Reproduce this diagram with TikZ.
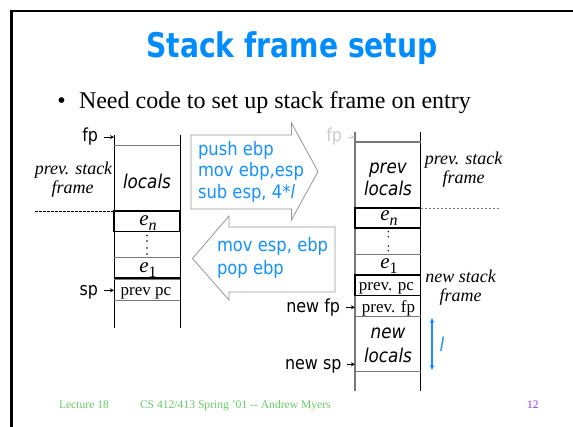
\documentclass[tikz,border=0pt]{standalone}
\usepackage{fontspec}
\setmainfont{Liberation Serif}
\newfontfamily\tah{DejaVu Sans}[FakeStretch=0.885]
\newfontfamily\titlefont{DejaVu Sans}[FakeStretch=0.83]
\usetikzlibrary{arrows.meta}
\definecolor{ttlblue}{RGB}{0,140,255}
\definecolor{codeblue}{RGB}{20,145,255}
\definecolor{footgreen}{RGB}{102,204,102}
\definecolor{footpurple}{RGB}{153,51,255}
\definecolor{boxgray}{RGB}{150,150,150}
\definecolor{linegray}{RGB}{120,120,120}
\definecolor{palegray}{RGB}{205,205,205}
\newcommand{\esub}[1]{\raisebox{-5pt}{\fontsize{16}{16}\selectfont #1}}
\begin{document}
\begin{tikzpicture}[x=1pt,y=-1pt,
  every node/.style={inner sep=0pt,outer sep=0pt},
  sanslbl/.style={font=\tah\fontsize{18}{20}\selectfont,text height=13pt,text depth=3.7pt},
  sansit/.style={font=\tah\itshape\fontsize{19}{21}\selectfont},
  codetxt/.style={font=\tah\fontsize{18.5}{21}\selectfont,text=codeblue},
  serit/.style={font=\itshape\fontsize{18}{20}\selectfont},
  srf/.style={font=\fontsize{17}{19}\selectfont},
  eitem/.style={font=\itshape\fontsize{21}{23}\selectfont},
  foot/.style={font=\fontsize{11.6}{13}\selectfont,text=footgreen},
  ptr/.style={-{Stealth[length=4pt,width=4pt]},line width=0.8pt,shorten <=5.5pt},
  glin/.style={draw=linegray,line width=1pt},
  blin/.style={draw=black,line width=1.5pt},
  arrowbox/.style={draw=boxgray,line width=0.8pt,fill=white,line join=miter}]
\useasboundingbox (0,0) rectangle (573,426);

% slide frame
\draw[line width=2.6pt] (11.3,440) -- (11.3,11) -- (590,11);

% title and bullet
\node[anchor=base,text=ttlblue,font=\titlefont\bfseries\fontsize{34}{40}\selectfont] (title) at (292,57) {Stack frame setup};
\node[anchor=base,font=\fontsize{24}{28}\selectfont] (bul) at (61.5,108) {\textbullet};
\node[anchor=base west,font=\fontsize{24}{28}\selectfont] (point) at (79,108) {Need code to set up stack frame on entry};

% ---------- stack before entry ----------
\coordinate (LS) at (114,0);
\draw[line width=1pt] (114,135) -- (114,328) (180,135) -- (180,328);
\draw[glin] (114,145) -- (180,145) (114,257.3) -- (180,257.3)
            (114,279.5) -- (180,279.5) (114,300) -- (180,300);
\draw[blin] (114,211) rectangle (180,231.5);
\draw[blin] (114,278) -- (180,278);
\draw[line width=0.9pt,dash pattern=on 2.5pt off 1.5pt] (35,211) -- (114,211);
\foreach \yy in {235.5,241,248,254} \fill (147,\yy) circle[radius=0.8pt];

\node[sansit,anchor=base] (locL) at (147,188.3) {locals};
\node[eitem,anchor=base] (enL) at (148,225) {e\esub{n}};
\node[eitem,anchor=base] (e1L) at (148,272.7) {e\esub{\upshape 1}};
\node[srf,anchor=base] (pcL) at (146,295) {prev pc};

\node[serit,anchor=base] (psL1) at (73.5,174.3) {prev. stack};
\node[serit,anchor=base] (psL2) at (72.5,193.3) {frame};

\node[sanslbl,anchor=base east] (fpL) at (98,141.7) {fp};
\node[sanslbl,anchor=base east] (spL) at (98,295) {sp};
\draw[ptr] (fpL.east) -- (fpL.east -| LS);
\draw[ptr] (spL.east) -- (spL.east -| LS);

% ---------- prologue / epilogue arrows ----------
\draw[arrowbox] (191,135) -- (291.5,135) -- (291.5,123) -- (318,171.5)
   -- (291.5,220) -- (291.5,209) -- (191,209) -- cycle;
\draw[arrowbox] (335,227) -- (229,227) -- (229,216) -- (192.5,258.5)
   -- (229,300) -- (229,292) -- (335,292) -- cycle;

\node[codetxt,anchor=base west] (c1) at (198,155) {push ebp};
\node[codetxt,anchor=base west] (c2) at (198,176.7) {mov ebp,esp};
\node[codetxt,anchor=base west] (c3) at (198,198.3) {sub esp, 4*{\itshape l}};
\node[codetxt,anchor=base west] (c4) at (217,251.7) {mov esp, ebp};
\node[codetxt,anchor=base west] (c5) at (217,274) {pop ebp};

% ---------- stack after entry ----------
\coordinate (RS) at (355,0);
\draw[line width=1.8pt,draw=linegray] (355,132) -- (355,391);
\draw[line width=1.1pt] (420.5,132) -- (420.5,391);
\draw[glin,line width=1.4pt] (355,142) -- (420.5,142);
\draw[glin] (355,254) -- (420.5,254) (355,316.7) -- (420.5,316.7) (355,371.7) -- (420.5,371.7);
\draw[blin] (355,208) rectangle (420.5,228);
\draw[blin] (355,275) rectangle (420.5,295.7);
\draw[draw=linegray,line width=0.9pt,dash pattern=on 2.5pt off 1.5pt] (420.5,208) -- (500,208);
\foreach \yy in {231.7,236.7,246,250.7} \fill (388.3,\yy) circle[radius=0.8pt];

\node[sansit,anchor=base] (prv) at (388,173.3) {prev};
\node[sansit,anchor=base] (locR) at (388,195) {locals};
\node[eitem,anchor=base] (enR) at (389,220) {e\esub{n}};
\node[eitem,anchor=base] (e1R) at (389,268.3) {e\esub{\upshape 1}};
\node[srf,anchor=base] (pcR) at (386.5,290.7) {prev. pc};
\node[srf,anchor=base] (pfR) at (388.5,312.3) {prev. fp};
\node[sansit,anchor=base] (nw) at (388,338) {new};
\node[sansit,anchor=base] (nlocR) at (388,362.3) {locals};

\node[serit,anchor=base] (psR1) at (463.5,164.3) {prev. stack};
\node[serit,anchor=base] (psR2) at (463.5,183.3) {frame};
\node[serit,anchor=base] (nsR1) at (460.5,282.7) {new stack};
\node[serit,anchor=base] (nsR2) at (460.5,301.7) {frame};

\node[sanslbl,anchor=base east,text=palegray] (fpR) at (342,141.7) {fp};
\node[sanslbl,anchor=base east] (nfp) at (340,312) {new fp};
\node[sanslbl,anchor=base east] (nsp) at (341.5,369) {new sp};
\draw[ptr,draw=palegray,fill=palegray] (fpR.east) -- (fpR.east -| RS);
\draw[ptr] (nfp.east) -- (nfp.east -| RS);
\draw[ptr] (nsp.east) -- (nsp.east -| RS);

% size of the new locals area
\coordinate (lTop) at (432,318);
\coordinate (lBot) at (432,370);
\draw[draw=codeblue,line width=1.1pt,{Stealth[length=5pt,width=4.5pt]}-{Stealth[length=5pt,width=4.5pt]}] (lTop) -- (lBot);
\node[codetxt,font=\tah\itshape\fontsize{19}{21}\selectfont,anchor=base] (ell) at (442,351.7) {l};

% footer
\node[foot,anchor=base west] (lec) at (59,408) {Lecture 18};
\node[foot,anchor=base west] (course) at (140,408) {CS 412/413 Spring '01 -{}- Andrew Myers};
\node[foot,anchor=base west,text=footpurple] (pg) at (527,408) {12};
\end{tikzpicture}
\end{document}
